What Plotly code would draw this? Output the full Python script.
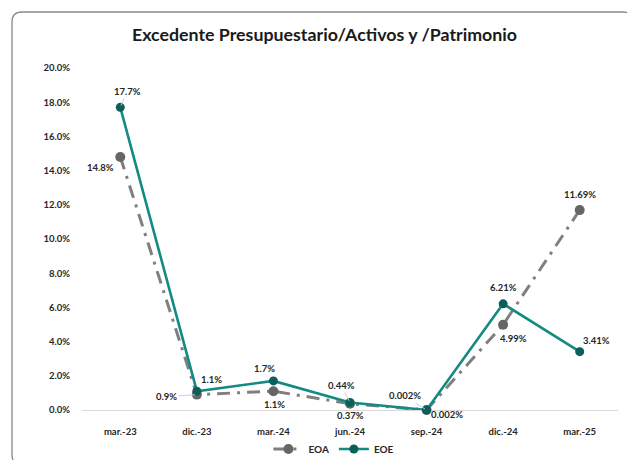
import plotly.graph_objects as go

categories = ["mar.-23", "dic.-23", "mar.-24", "jun.-24", "sep.-24", "dic.-24", "mar.-25"]
eoa = [14.8, 0.9, 1.1, 0.37, 0.002, 4.99, 11.69]
eoe = [17.7, 1.1, 1.7, 0.44, 0.002, 6.21, 3.41]
eoa_labels = ["14.8%", "0.9%", "1.1%", "0.37%", "0.002%", "4.99%", "11.69%"]
eoe_labels = ["17.7%", "1.1%", "1.7%", "0.44%", "0.002%", "6.21%", "3.41%"]
y_ticks = [0, 2, 4, 6, 8, 10, 12, 14, 16, 18, 20]

# label offsets in pixels (dx, dy; dy positive = down) and whether a leader line is drawn
eoa_off = [(-20, 11, False), (-30, 2, True), (1, 13, False), (0, 12, False), (20, 5, False), (10, 14, False), (0, -16, False)]
eoe_off = [(7, -16, True), (15, -12, False), (-9, -12, False), (-9, -17, True), (-22, -14, True), (0, -16, False), (17, -11, False)]

FONT = "Lato"
GRAY = "#7f7f7f"
GRAY_M = "#666666"
TEAL = "#138a82"
TEAL_M = "#0c5f58"

fig = go.Figure()
fig.add_trace(go.Scatter(
    x=categories, y=eoa, name="EOA", mode="lines+markers",
    line=dict(color=GRAY, width=3, dash="13px,7px,3px,7px"),
    marker=dict(color=GRAY_M, size=10), cliponaxis=False,
))
fig.add_trace(go.Scatter(
    x=categories, y=eoe, name="EOE", mode="lines+markers",
    line=dict(color=TEAL, width=2.6),
    marker=dict(color=TEAL_M, size=9), cliponaxis=False,
))

annotations = []
for vals, labels, offs in ((eoa, eoa_labels, eoa_off), (eoe, eoe_labels, eoe_off)):
    for c, v, lab, (dx, dy, lead) in zip(categories, vals, labels, offs):
        a = dict(x=c, y=v, xref="x", yref="y", text=lab,
                 font=dict(family=FONT, size=9.5, color="#262626", weight="bold"))
        if lead:
            a.update(showarrow=True, ax=dx, ay=dy, arrowhead=0, arrowwidth=1,
                     arrowcolor="#c5cfe0", standoff=2)
        else:
            a.update(showarrow=False, xshift=dx, yshift=-dy)
        annotations.append(a)

annotations.append(dict(text="<b>Excedente Presupuestario/Activos y /Patrimonio</b>",
                        xref="paper", yref="paper", x=0.453, y=1.1,
                        xanchor="center", yanchor="middle", showarrow=False,
                        font=dict(family=FONT, size=17.8, color="#1a1a1a")))

# rounded frame (paper coords)
L, R, T, B = -0.1306, 1.028, 1.1637, -0.16
rx, ry = 10 / 536, 10 / 342
path = (f"M {L+rx},{T} L {R-rx},{T} Q {R},{T} {R},{T-ry} L {R},{B+ry} Q {R},{B} {R-rx},{B} "
        f"L {L+rx},{B} Q {L},{B} {L},{B+ry} L {L},{T-ry} Q {L},{T} {L+rx},{T} Z")

# page body has an 8px margin: the figure is drawn 8px right/down
fig.update_layout(
    width=627, height=452,
    margin=dict(l=74, r=17, t=60, b=50, autoexpand=False),
    paper_bgcolor="white", plot_bgcolor="white",
    font=dict(family=FONT, color="#262626"),
    annotations=annotations,
    shapes=[dict(type="path", path=path, xref="paper", yref="paper",
                 line=dict(color="#8a8a8a", width=1.3), layer="below")],
    showlegend=True,
    legend=dict(orientation="h", x=0.47, xanchor="center", y=-0.114, yanchor="middle",
                font=dict(family=FONT, size=10, color="#262626", weight="bold"),
                itemwidth=30, bgcolor="rgba(0,0,0,0)"),
    xaxis=dict(type="category", range=[-0.5, 6.5], showgrid=False, showline=False,
               zeroline=False, ticks="", ticklabelstandoff=14, automargin=False,
               tickfont=dict(family=FONT, size=9.5, color="#262626", weight="bold")),
    yaxis=dict(range=[0, 20], tickvals=y_ticks, automargin=False,
               ticktext=[f"{t:.1f}%" for t in y_ticks],
               showgrid=False, zeroline=True, zerolinecolor="#d9d9d9", zerolinewidth=1,
               showline=False, ticks="", ticklabelstandoff=11,
               tickfont=dict(family=FONT, size=9.5, color="#262626", weight="bold")),
)

fig.write_html("out.html")
